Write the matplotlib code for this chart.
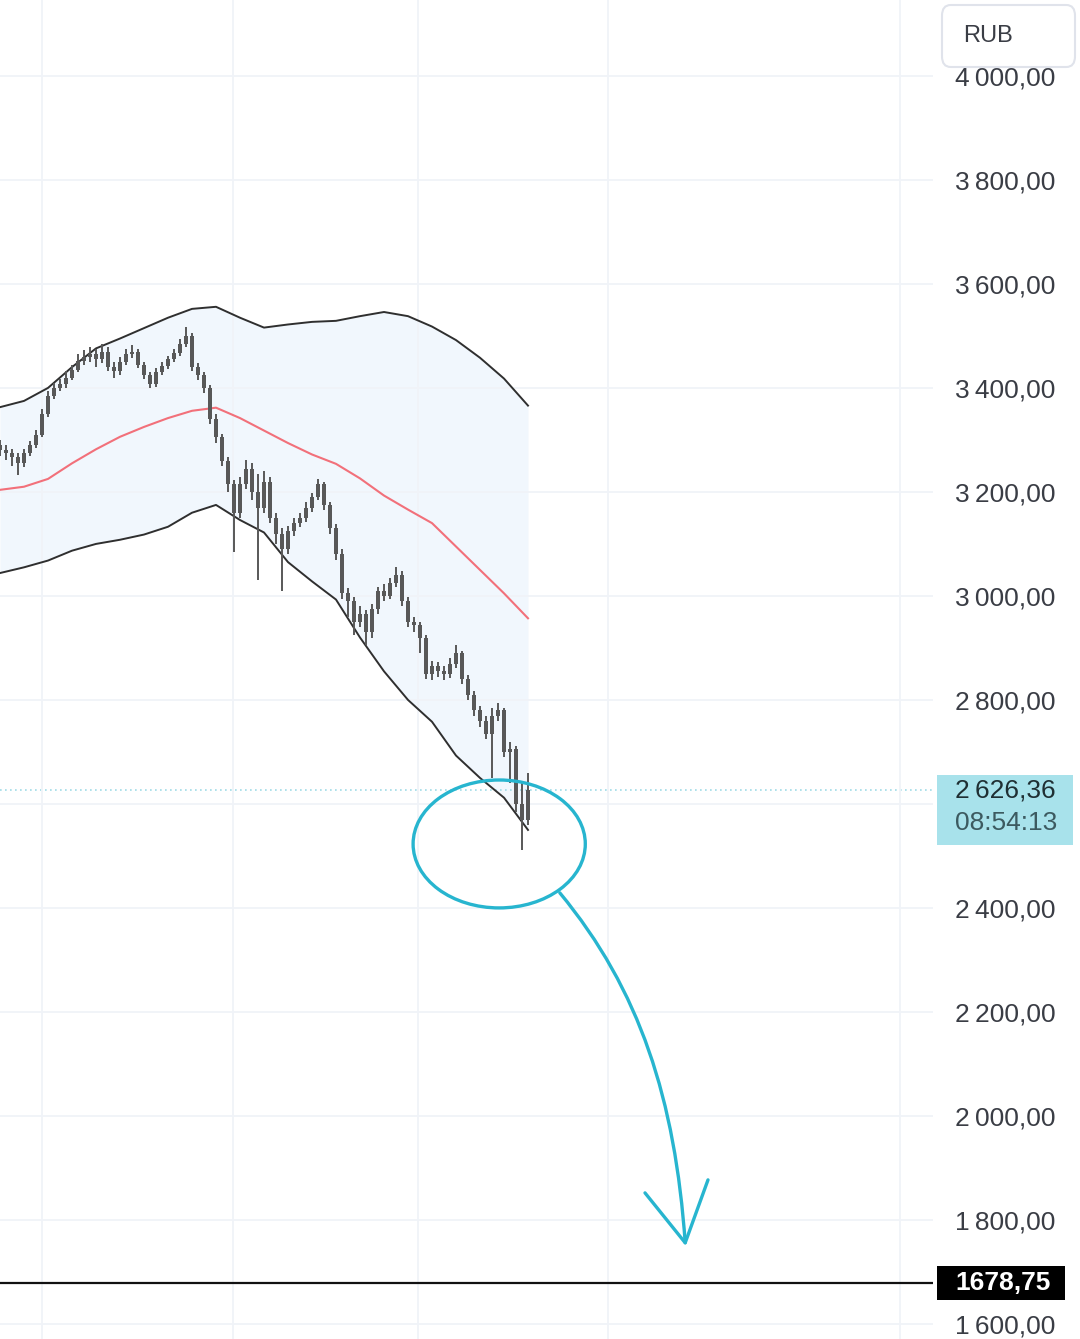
import matplotlib.pyplot as plt
from matplotlib.patches import Ellipse, PathPatch, FancyBboxPatch, Rectangle
from matplotlib.path import Path

# OHLC bars (one bar per index)
opens = [3290, 3281, 3275, 3268, 3255, 3275, 3290, 3310, 3350, 3385,
         3400, 3408, 3420, 3435, 3452, 3460, 3465, 3455, 3470, 3440,
         3432, 3450, 3465, 3470, 3445, 3425, 3408, 3430, 3442, 3455,
         3468, 3485, 3500, 3440, 3425, 3400, 3340, 3305, 3260, 3215,
         3160, 3215, 3245, 3200, 3170, 3220, 3150, 3120, 3090, 3125,
         3140, 3150, 3170, 3190, 3215, 3175, 3130, 3080, 3005, 2990,
         2950, 2965, 2930, 2975, 3010, 3000, 3025, 3040, 2990, 2950,
         2945, 2920, 2850, 2865, 2855, 2850, 2870, 2890, 2840, 2810,
         2780, 2760, 2735, 2770, 2780, 2700, 2705, 2600, 2570]
closes = [3281, 3275, 3268, 3255, 3275, 3290, 3310, 3350, 3385, 3400,
          3408, 3420, 3435, 3452, 3460, 3465, 3455, 3470, 3440, 3432,
          3450, 3465, 3470, 3445, 3425, 3408, 3430, 3442, 3455, 3468,
          3485, 3500, 3440, 3425, 3400, 3340, 3305, 3260, 3215, 3160,
          3215, 3245, 3200, 3170, 3220, 3150, 3120, 3090, 3125, 3140,
          3150, 3170, 3190, 3215, 3175, 3130, 3080, 3005, 2990, 2950,
          2965, 2930, 2975, 3010, 3000, 3025, 3040, 2990, 2950, 2945,
          2920, 2850, 2865, 2855, 2850, 2870, 2890, 2840, 2810, 2780,
          2760, 2735, 2770, 2780, 2700, 2705, 2600, 2570, 2626]
highs = [3300, 3290, 3282, 3275, 3282, 3298, 3320, 3360, 3395, 3410,
         3418, 3432, 3445, 3465, 3472, 3478, 3475, 3485, 3478, 3450,
         3460, 3475, 3482, 3475, 3450, 3430, 3438, 3450, 3462, 3475,
         3495, 3517, 3505, 3448, 3430, 3405, 3350, 3312, 3268, 3222,
         3228, 3262, 3255, 3235, 3240, 3228, 3160, 3130, 3135, 3150,
         3160, 3180, 3198, 3225, 3220, 3180, 3138, 3090, 3015, 2998,
         2980, 2972, 2985, 3018, 3022, 3035, 3055, 3048, 2998, 2960,
         2950, 2925, 2875, 2872, 2865, 2880, 2905, 2895, 2848, 2818,
         2788, 2770, 2785, 2795, 2785, 2720, 2712, 2640, 2660]
lows = [3270, 3262, 3250, 3232, 3248, 3270, 3285, 3305, 3345, 3378,
        3395, 3400, 3415, 3430, 3445, 3450, 3440, 3448, 3432, 3420,
        3425, 3445, 3458, 3438, 3418, 3400, 3402, 3425, 3436, 3450,
        3462, 3478, 3432, 3415, 3390, 3330, 3295, 3250, 3200, 3085,
        3150, 3205, 3185, 3030, 3160, 3140, 3100, 3010, 3080, 3115,
        3132, 3142, 3162, 3185, 3165, 3120, 3070, 2995, 2960, 2925,
        2940, 2905, 2920, 2965, 2990, 2995, 3018, 2980, 2940, 2930,
        2890, 2840, 2838, 2845, 2838, 2842, 2862, 2830, 2800, 2770,
        2748, 2725, 2650, 2760, 2690, 2640, 2585, 2512, 2560]

# Bollinger bands, sampled every 4 bars
band_x = [0, 4, 8, 12, 16, 20, 24, 28, 32, 36, 40, 44, 48, 52, 56, 60,
          64, 68, 72, 76, 80, 84, 88]
bb_upper = [3363, 3375, 3400, 3440, 3476, 3495, 3515, 3535, 3552, 3556,
            3535, 3516, 3522, 3527, 3529, 3538, 3546, 3538, 3518, 3492,
            3458, 3418, 3366]
bb_middle = [3204, 3210, 3225, 3255, 3282, 3306, 3325, 3342, 3356, 3362,
             3342, 3318, 3294, 3272, 3254, 3226, 3193, 3166, 3140, 3095,
             3050, 3005, 2957]
bb_lower = [3044, 3055, 3068, 3087, 3100, 3108, 3118, 3133, 3160, 3175,
            3146, 3122, 3065, 3028, 2993, 2920, 2855, 2800, 2758, 2693,
            2650, 2612, 2550]

last_price = 2626.36
last_time = "08:54:13"
level_price = 1678.75
price_ticks = [1600, 1800, 2000, 2200, 2400, 2600, 2800, 3000, 3200,
               3400, 3600, 3800, 4000]
time_ticks = [7, 38.8, 69.7, 101.3, 150]

# hand drawn marks (bar index, price)
circle_center = (83.2, 2523)
circle_size = (28.7, 246)
arrow_curve = [(93.3, 2429), (106.7, 2242), (112.5, 2031), (114.2, 1756)]
arrow_head = [(107.5, 1852), (114.2, 1756), (118.0, 1877)]

font = ['Liberation Sans', 'DejaVu Sans']
cyan = '#27b5cf'


def fmt(v):
    v = int(v)
    return f"{v // 1000}\u2009{v % 1000:03d},00"


fig = plt.figure(figsize=(10.8, 13.39), dpi=100)
ax = fig.add_axes([0, 0, 933 / 1080, 1])
ax.set_xlim(0, 155.5)
ax.set_ylim(1571, 4146)

ax.fill_between(band_x, bb_lower, bb_upper, color='#f1f7fd', lw=0, zorder=1)
ax.plot(band_x, bb_upper, color='#2f2f2f', lw=1.4, zorder=2)
ax.plot(band_x, bb_lower, color='#2f2f2f', lw=1.4, zorder=2)
ax.plot(band_x, bb_middle, color='#f2707a', lw=1.5, zorder=2)

idx = list(range(len(closes)))
ax.vlines(idx, lows, highs, color='#585858', lw=1.4, zorder=3)
ax.bar(idx, [c - o for o, c in zip(opens, closes)], bottom=opens,
       width=0.75, color='#585858', lw=0, zorder=3)

# last price and horizontal level
ax.axhline(last_price, color='#9fdbe6', lw=1.2, ls=(0, (1, 2)), zorder=1.5)
ax.axhline(level_price, color='#111111', lw=1.6, zorder=3)

# hand drawn circle and arrow
ax.add_patch(Ellipse(circle_center, circle_size[0], circle_size[1],
                     fill=False, ec=cyan, lw=2.4, zorder=5))
path = Path(arrow_curve, [Path.MOVETO, Path.CURVE4, Path.CURVE4, Path.CURVE4])
ax.add_patch(PathPatch(path, fill=False, ec=cyan, lw=2.4, zorder=5,
                       capstyle='round'))
ax.plot([p[0] for p in arrow_head], [p[1] for p in arrow_head],
        color=cyan, lw=2.4, zorder=5, solid_capstyle='round',
        solid_joinstyle='round')

# axes styling
for s in ax.spines.values():
    s.set_visible(False)
ax.set_xticks(time_ticks)
ax.set_xticklabels([])
ax.set_yticks(price_ticks)
# the 2600 label sits under the last price box
ax.set_yticklabels(['' if v == 2600 else fmt(v) for v in price_ticks],
                   family=font, fontsize=19, color='#3a3d45')
ax.yaxis.tick_right()
ax.tick_params(axis='both', length=0)
ax.tick_params(axis='y', pad=15.5)
ax.grid(True, color='#f0f3f8', lw=1.3, zorder=0)

# price labels on the scale
ytr = ax.get_yaxis_transform()
ax.add_patch(Rectangle((1.0043, last_price - 106), 136 / 933, 135,
                       transform=ytr, clip_on=False, fc='#a8e2eb', lw=0,
                       zorder=10))
ax.text(955 / 933, last_price,
        fmt(last_price).split('\u2009')[0] + '\u2009'
        + f"{last_price:.2f}".replace('.', ',')[1:], transform=ytr,
        ha='left', va='center', family=font, fontsize=19, color='#1f2f33',
        clip_on=False, zorder=11)
ax.text(955 / 933, last_price - 63, last_time, transform=ytr,
        ha='left', va='center', family=font, fontsize=19, color='#3c5a60',
        clip_on=False, zorder=11)

ax.add_patch(Rectangle((1.0043, level_price - 33), 128 / 933, 66,
                       transform=ytr, clip_on=False, fc='#000000', lw=0,
                       zorder=10))
ax.text(955 / 933, level_price, f"{level_price:.2f}".replace('.', ','),
        transform=ytr, ha='left', va='center', family=font, fontsize=19,
        fontweight='bold', color='white', clip_on=False, zorder=11)

# currency box (covers the top of the 4000 label as in the screenshot)
fig.add_artist(FancyBboxPatch((942 / 1080, 1 - 67 / 1339), 133 / 1080,
                              62 / 1339,
                              boxstyle='round,pad=0,rounding_size=0.008',
                              transform=fig.transFigure, fc='white',
                              ec='#e0e3eb', lw=1.5, zorder=5))
fig.text(963 / 1080, 1 - 36 / 1339, 'RUB', family=font, fontsize=17,
         color='#3a3d45', ha='left', va='center', zorder=6)

fig.savefig('out.png', dpi=100)
